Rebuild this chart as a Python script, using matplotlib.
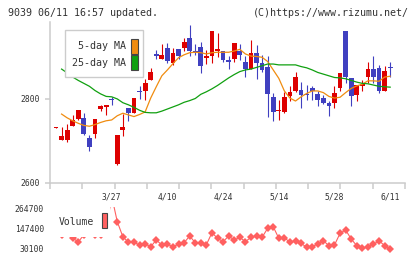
import matplotlib
matplotlib.use('Agg')
import matplotlib.pyplot as plt
import matplotlib.transforms as mtransforms
from matplotlib.patches import Rectangle

# ---------------- data ----------------
opens = [2732, 2702, 2702, 2736, 2752, 2754, 2706, 2717, 2776, 2780,
         2801, 2645, 2725, 2779, 2767, 2819, 2818, 2844, 2907, 2896,
         2921, 2885, 2918, 2921, 2946, 2914, 2923, 2898, 2901, 2913,
         2914, 2893, 2896, 2913, 2888, 2872, 2909, 2886, 2877, 2805,
         2771, 2769, 2807, 2819, 2821, 2812, 2826, 2812, 2802, 2791,
         2791, 2827, 2962, 2849, 2810, 2831, 2853, 2871, 2874, 2820,
         2876]
highs = [2734, 2733, 2740, 2762, 2774, 2766, 2714, 2752, 2786, 2786,
         2805, 2714, 2764, 2779, 2802, 2831, 2847, 2874, 2917, 2931,
         2934, 2921, 2918, 2945, 2976, 2931, 2935, 2916, 2962, 2956,
         2914, 2902, 2933, 2931, 2902, 2940, 2929, 2905, 2902, 2815,
         2798, 2817, 2831, 2863, 2841, 2833, 2831, 2819, 2810, 2795,
         2831, 2861, 2962, 2849, 2833, 2845, 2889, 2902, 2881, 2879,
         2889]
lows = [2732, 2702, 2698, 2736, 2750, 2714, 2677, 2706, 2772, 2762,
        2786, 2643, 2712, 2748, 2767, 2801, 2798, 2844, 2895, 2895,
        2886, 2881, 2895, 2915, 2902, 2905, 2862, 2882, 2886, 2899,
        2889, 2872, 2889, 2893, 2851, 2871, 2848, 2865, 2758, 2748,
        2750, 2766, 2794, 2817, 2779, 2798, 2798, 2784, 2788, 2760,
        2779, 2819, 2839, 2784, 2796, 2820, 2839, 2839, 2815, 2820,
        2853]
closes = [2734, 2712, 2726, 2750, 2774, 2717, 2686, 2752, 2782, 2786,
          2798, 2714, 2734, 2767, 2802, 2816, 2839, 2863, 2902, 2905,
          2891, 2909, 2901, 2935, 2913, 2910, 2879, 2902, 2962, 2919,
          2893, 2888, 2933, 2905, 2871, 2909, 2886, 2869, 2812, 2770,
          2772, 2805, 2817, 2853, 2810, 2809, 2819, 2798, 2791, 2783,
          2814, 2861, 2853, 2808, 2833, 2836, 2871, 2853, 2819, 2867,
          2874]
ma5 = [None, 2764, 2755, 2748, 2742, 2737, 2735, 2739, 2744, 2748,
       2750, 2760, 2766, 2762, 2758, 2763, 2769, 2802, 2829, 2855,
       2869, 2884, 2898, 2905, 2910, 2911, 2910, 2907, 2910, 2911,
       2911, 2911, 2914, 2918, 2907, 2902, 2901, 2899, 2889, 2869,
       2849, 2819, 2802, 2795, 2805, 2813, 2819, 2819, 2815, 2806,
       2802, 2804, 2815, 2825, 2831, 2835, 2843, 2843, 2842, 2852,
       2854]
ma25 = [None, 2871, 2862, 2852, 2844, 2837, 2830, 2820, 2812, 2806,
        2805, 2800, 2791, 2786, 2780, 2773, 2768, 2767, 2767, 2771,
        2776, 2781, 2786, 2792, 2796, 2801, 2811, 2817, 2824, 2832,
        2841, 2850, 2858, 2865, 2869, 2871, 2875, 2879, 2883, 2883,
        2881, 2881, 2881, 2881, 2877, 2874, 2869, 2863, 2859, 2855,
        2851, 2850, 2848, 2844, 2840, 2837, 2836, 2833, 2830, 2829,
        2828]
volumes = [125000, 114000, 130000, 93000, 70000, 112000, 130000, 110000, 112000, 140000,
           340000, 189600, 101000, 67900, 67900, 52000, 57900, 41900, 81500, 52000,
           56100, 41900, 56100, 65500, 105100, 65500, 65500, 54000, 124600, 91600,
           71500, 105100, 81500, 97500, 71500, 97500, 105100, 97500, 150600, 160100,
           91600, 95100, 67900, 77400, 62000, 38400, 41900, 57900, 77400, 47800,
           52000, 121100, 140600, 87400, 47800, 32500, 41900, 56100, 77400, 47800,
           30100]
date_label_idx = [10, 20, 30, 40, 50, 60]
date_labels = ['3/27', '4/10', '4/24', '5/14', '5/28', '6/11']
price_ticks = [2600, 2800]
volume_ticks = [30100, 147400, 264700]
legend_labels = ['5-day MA', '25-day MA']

# ---------------- style ----------------
RED = '#dd0000'
BLUE = '#4040c0'
ORANGE = '#f08c10'
GREEN = '#10a010'
VOLC = '#ff6060'
AXC = '#cccccc'
TXT = '#333333'
MONO = 'DejaVu Sans Mono'

W, H = 420, 259
fig = plt.figure(figsize=(W / 100, H / 100), dpi=100)
fig.patch.set_facecolor('white')


def fx(px):
    return px / W


def fy(py):
    return 1 - py / H


XL = (-1.08, 62.66)

ax = fig.add_axes([fx(50), fy(183), fx(405) - fx(50), fy(22) - fy(183)])
ax.set_facecolor('none')
n = len(opens)
xs = list(range(n))

# wicks
for i in xs:
    col = RED if closes[i] >= opens[i] else BLUE
    ax.vlines(i, lows[i], highs[i], color=col, lw=0.8, zorder=2)
# bodies
bott = [min(o, c) for o, c in zip(opens, closes)]
hts = [max(abs(c - o), 2.4) for o, c in zip(opens, closes)]
cols = [RED if c >= o else BLUE for o, c in zip(opens, closes)]
ax.bar(xs, hts, bottom=bott, width=0.86, color=cols, linewidth=0, zorder=3)

mx = [i for i in xs if ma5[i] is not None]
ax.plot(mx, [ma5[i] for i in mx], color=ORANGE, lw=0.9, zorder=4)
mx = [i for i in xs if ma25[i] is not None]
ax.plot(mx, [ma25[i] for i in mx], color=GREEN, lw=0.9, zorder=4)

ax.set_xlim(*XL)
ax.set_ylim(2600, 2983)
for s in ['top', 'right']:
    ax.spines[s].set_visible(False)
for s in ['left', 'bottom']:
    ax.spines[s].set_color(AXC)
    ax.spines[s].set_linewidth(1.1)

step = (XL[1] - XL[0]) / 11
ax.set_xticks([XL[0] + k * step for k in range(12)])
ax.set_xticklabels([])
ax.tick_params(axis='x', direction='out', length=4.2, width=1.1, color=AXC)
ax.set_yticks(price_ticks)
ax.set_yticklabels([str(v) for v in price_ticks], fontsize=5.8, family=MONO, color=TXT)
ax.tick_params(axis='y', direction='out', length=3.6, width=1.1, color=AXC, pad=3.5)

# date labels
tr = mtransforms.blended_transform_factory(ax.transData, fig.transFigure)
for i, lab in zip(date_label_idx, date_labels):
    ax.text(i, fy(197.5), lab, transform=tr, ha='center', va='center',
            fontsize=5.8, family=MONO, color=TXT, clip_on=False)

# main legend
ax.add_patch(Rectangle((fx(65), fy(77.3)), fx(143.3) - fx(65), fy(30) - fy(77.3),
                       transform=fig.transFigure, facecolor='white', edgecolor=AXC,
                       lw=1.0, zorder=10, clip_on=False))
for lab, col, yc in zip(legend_labels, [ORANGE, GREEN], [46, 62.5]):
    ax.text(fx(125.5), fy(yc), lab, transform=fig.transFigure, ha='right', va='center',
            fontsize=7.2, family=MONO, color=TXT, zorder=11)
    ax.add_patch(Rectangle((fx(131), fy(yc + 7.5)), fx(137.5) - fx(131), fy(yc - 7.5) - fy(yc + 7.5),
                           transform=fig.transFigure, facecolor=col, edgecolor='#444444',
                           lw=0.8, zorder=11, clip_on=False))

# ---------------- volume ----------------
vax = fig.add_axes([fx(50), fy(252), fx(405) - fx(50), fy(207) - fy(252)])
vax.set_facecolor('none')
vax.plot(xs, volumes, color=VOLC, lw=0.8, marker='D', markersize=4.2,
         markeredgewidth=0, zorder=3)
vax.add_patch(Rectangle((fx(48), fy(236.5)), fx(110) - fx(48), fy(204) - fy(236.5),
                        transform=fig.transFigure, facecolor='white', edgecolor='none',
                        zorder=5))
vax.text(fx(59), fy(221.7), 'Volume', transform=fig.transFigure, ha='left', va='center',
         fontsize=7.0, family=MONO, color=TXT, zorder=6)
vax.add_patch(Rectangle((fx(101.7), fy(228.3)), fx(107.5) - fx(101.7), fy(213.3) - fy(228.3),
                        transform=fig.transFigure, facecolor=VOLC, edgecolor='#444444',
                        lw=0.8, zorder=6))
vax.set_xlim(*XL)
vax.set_ylim(10600, 276500)
for s in vax.spines.values():
    s.set_visible(False)
vax.set_xticks([])
vax.set_yticks(volume_ticks)
vax.set_yticklabels([str(v) for v in volume_ticks], fontsize=5.8, family=MONO, color=TXT)
vax.tick_params(axis='y', length=0, pad=4.3)

# header
fig.text(fx(8), fy(13.3), '9039 06/11 16:57 updated.', ha='left', va='center',
         fontsize=7.2, family=MONO, color=TXT)
fig.text(fx(408.5), fy(13.3), '(C)https://www.rizumu.net/', ha='right', va='center',
         fontsize=7.2, family=MONO, color=TXT)

fig.savefig('out.png', dpi=100)
